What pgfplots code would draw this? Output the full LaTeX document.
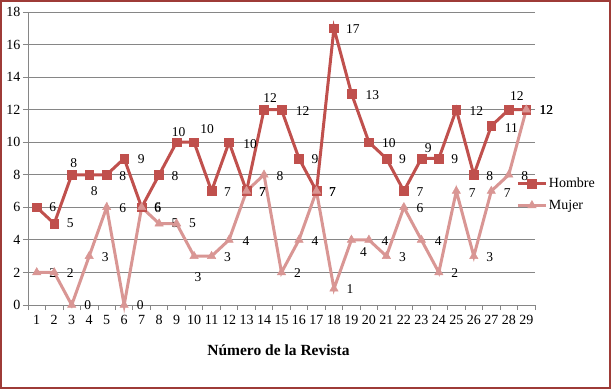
\documentclass[border=0pt]{standalone}
\usepackage{fontspec}
\setmainfont{Liberation Serif}
\usepackage{pgfplots}
\usepackage{pgfplotstable}
\pgfplotsset{compat=1.18}
\definecolor{hombre}{HTML}{C0504D}
\definecolor{mujer}{HTML}{D99694}
\definecolor{framecol}{HTML}{9E3B37}
\definecolor{gridgray}{HTML}{868686}

\pgfplotstableread{
x h hdx hdy m mdx mdy
1 6 16 0 2 16 -1
2 5 16 0 2 16 -1
3 8 2 12 0 16 0
4 8 5 -16 3 16 -1
5 8 16 -1 6 16 -1
6 9 17 -1 0 16 0
7 6 16 0 6 16 -1
8 8 16 -1 5 16 0
9 10 2 10 5 16 0
10 10 13 13 3 4 -21
11 7 16 -1 3 16 -1
12 10 21 -2 4 17 -1
13 7 16 -1 7 16 -1
14 12 6 12 8 16 -1
15 12 21 -1 2 16 -1
16 9 16 -1 4 16 -1
17 7 16 -1 7 16 -1
18 17 19 -1 1 16 0
19 13 21 -2 4 12 -12
20 10 20 -1 4 16 -1
21 9 16 -1 3 16 -1
22 7 16 -1 6 16 -1
23 9 7 10 4 17 -1
24 9 16 -1 2 16 -1
25 12 20 -1 7 16 -2
26 8 16 -1 3 16 -1
27 11 20 -2 7 16 -2
28 12 8 14 8 16 -1
29 12 20 0 12 20 0
}\data

\begin{document}
\begin{tikzpicture}[x=1pt,y=1pt]
\begin{axis}[
  name=ax, at={(28pt,84pt)}, anchor=south west,
  scale only axis, width=507pt, height=293pt,
  clip=false,
  xmin=0.5, xmax=29.5, ymin=0, ymax=18,
  xtick={1,...,29}, ytick={0,2,...,18},
  minor xtick={0.5,1.5,...,29.5},
  axis x line*=bottom, axis y line*=left,
  axis line style={draw=gridgray, line width=0.8pt, -},
  ymajorgrids, grid style={draw=gridgray, line width=0.8pt},
  tick align=outside,
  major tick length=5pt, minor tick length=5pt,
  tick style={draw=gridgray, line width=0.8pt},
  major x tick style={draw=none},
  /pgf/number format/assume math mode=true,
  ticklabel style={font=\fontsize{14}{16}\selectfont},
  yticklabel style={xshift=1pt},
  xticklabel style={yshift=-2pt},
  xlabel={\textbf{Número de la Revista}},
  every axis x label/.style={at={(axis description cs:0.5,0)}, anchor=center, yshift=-45pt, xshift=-3pt, font=\fontsize{15.5}{17}\selectfont},
  legend style={at={(0.963,0.44)}, anchor=north west, draw=none, fill=none,
    font=\fontsize{14}{16}\selectfont, row sep=8pt, inner sep=0pt,
    nodes={inner sep=1.5pt}},
  legend cell align=left,
  legend image code/.code={\draw[mark repeat=2,mark phase=2] plot coordinates {(0pt,0pt)(14pt,0pt)(28pt,0pt)};},
  nodes near coords,
  every node near coord/.append style={anchor=center, font=\fontsize{13.5}{15}\selectfont, text=black},
]
\addplot[color=hombre, line width=3pt, mark=square*, mark size=4.4pt,
  mark options={solid, line width=0.5pt},
  visualization depends on={\thisrow{hdx} \as \ldx},
  visualization depends on={\thisrow{hdy} \as \ldy},
  every node near coord/.append style={xshift=\ldx pt, yshift=\ldy pt}]
  table[x=x, y=h] {\data};
\addlegendentry{Hombre}
\addplot[color=mujer, line width=3pt, mark=triangle*, mark size=4.8pt,
  mark options={solid, line width=0.5pt},
  visualization depends on={\thisrow{mdx} \as \ldx},
  visualization depends on={\thisrow{mdy} \as \ldy},
  every node near coord/.append style={xshift=\ldx pt, yshift=\ldy pt}]
  table[x=x, y=m] {\data};
\addlegendentry{Mujer}
\end{axis}
\draw[framecol, line width=2pt] (ax.south west) ++(-27pt,-83pt) rectangle ++(609pt,387pt);
\pgfresetboundingbox
\path[use as bounding box] (ax.south west) ++(-28pt,-84pt) rectangle ++(611pt,389pt);
\end{tikzpicture}
\end{document}
